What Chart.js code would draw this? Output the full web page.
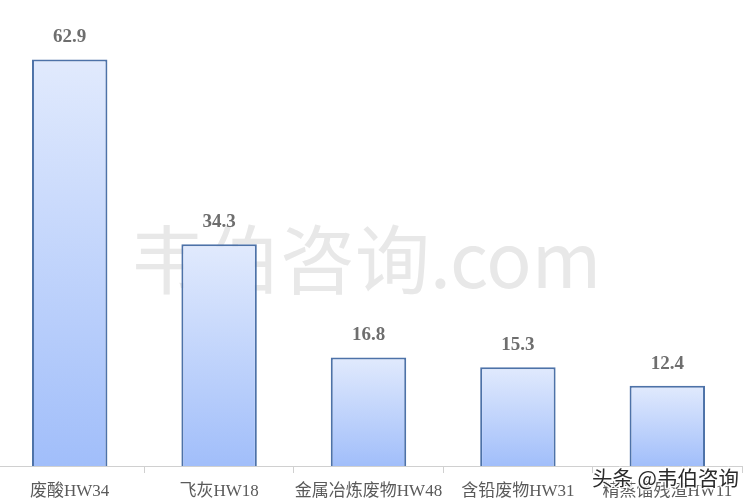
<!DOCTYPE html>
<html>
<head>
<meta charset="utf-8">
<script src="https://cdn.jsdelivr.net/npm/chart.js@4"></script>
<style>
  html, body { margin: 0; padding: 0; background: #fff; overflow: hidden; }
  #wrap { width: 749px; height: 503px; margin-left: -5px; }
</style>
</head>
<body>
<div id="wrap"><canvas id="chart"></canvas></div>
<script>
// categories and values
const categories = ['废酸HW34', '飞灰HW18', '金属冶炼废物HW48', '含铅废物HW31', '精蒸馏残渣HW11'];
const values = [62.9, 34.3, 16.8, 15.3, 12.4];

const serif = '"Liberation Serif", "Noto Sans CJK SC", serif';

// per-bar vertical gradient, light at top, blue at bottom
function barFill(ctx) {
  const chart = ctx.chart;
  const area = chart.chartArea;
  if (!area || ctx.dataIndex === undefined) return '#c4d6fb';
  const top = chart.scales.y.getPixelForValue(values[ctx.dataIndex]);
  const g = chart.ctx.createLinearGradient(0, top, 0, area.bottom);
  g.addColorStop(0, '#e1eafd');
  g.addColorStop(1, '#a1befa');
  return g;
}

const watermark = {
  id: 'watermark',
  beforeDatasetsDraw(chart) {
    const c = chart.ctx;
    c.save();
    c.font = '75px "Noto Sans CJK SC", sans-serif';
    c.fillStyle = '#e8e8e8';
    c.textAlign = 'left';
    c.textBaseline = 'alphabetic';
    c.fillText('韦伯咨询.com', 135, 288);
    c.restore();
  },
  afterDatasetsDraw(chart) {
    const c = chart.ctx;
    const meta = chart.getDatasetMeta(0);
    c.save();
    c.font = 'bold 19px ' + serif;
    c.fillStyle = '#6e6e6e';
    c.textAlign = 'center';
    c.textBaseline = 'middle';
    meta.data.forEach((bar, i) => {
      c.fillText(values[i].toFixed(1), bar.x, bar.y - 22);
    });
    c.restore();
  },
  afterDraw(chart) {
    const c = chart.ctx;
    c.save();
    c.font = '20.5px "Noto Sans CJK SC", sans-serif';
    c.textAlign = 'left';
    c.textBaseline = 'middle';
    c.lineWidth = 3;
    c.strokeStyle = 'rgba(255,255,255,0.9)';
    c.strokeText('头条 @韦伯咨询', 597, 478);
    c.fillStyle = '#2b2b2b';
    c.fillText('头条 @韦伯咨询', 597, 478);
    c.restore();
  }
};

new Chart(document.getElementById('chart'), {
  type: 'bar',
  data: {
    labels: categories,
    datasets: [{
      data: values,
      backgroundColor: barFill,
      borderColor: '#4d72a8',
      borderWidth: 2,
      borderSkipped: 'bottom',
      barPercentage: 0.505,
      categoryPercentage: 1.0
    }]
  },
  options: {
    responsive: true,
    maintainAspectRatio: false,
    animation: false,
    layout: { padding: { top: 2, left: 0, right: 2, bottom: 0 } },
    plugins: {
      legend: { display: false },
      tooltip: { enabled: false }
    },
    scales: {
      x: {
        offset: true,
        afterFit: (scale) => { scale.height = 37; },
        border: { display: true, color: '#d0d0d0', width: 1 },
        grid: { display: true, drawOnChartArea: false, drawTicks: true, tickLength: 7, offset: true, color: '#d0d0d0' },
        ticks: { font: { family: serif, size: 17 }, color: '#5a5a5a', padding: 8, maxRotation: 0, autoSkip: false }
      },
      y: {
        display: false,
        min: 0,
        max: 71.8
      }
    }
  },
  plugins: [watermark]
});
</script>
</body>
</html>
